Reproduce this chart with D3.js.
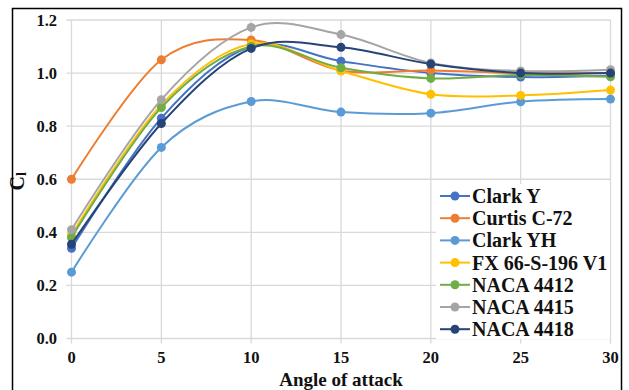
<!DOCTYPE html>
<html>
<head>
<meta charset="utf-8">
<script src="https://cdn.jsdelivr.net/npm/d3@7"></script>
<style>
  body { margin: 0; background: #fff; }
  svg text { font-family: "Liberation Serif", "Times New Roman", serif; font-weight: bold; fill: #111; }
</style>
</head>
<body>
<svg width="629" height="390"></svg>
<script>
// angle of attack (deg)
const angles = [0, 5, 10, 15, 20, 25, 30];

// lift coefficient per airfoil
const clarkY   = [0.34, 0.83, 1.10, 1.045, 1.00, 0.985, 0.99];
const curtis   = [0.60, 1.05, 1.125, 1.01, 1.01, 1.00, 1.00];
const clarkYH  = [0.25, 0.72, 0.893, 0.853, 0.849, 0.892, 0.902];
const fx66     = [0.39, 0.88, 1.11, 1.008, 0.92, 0.916, 0.936];
const naca4412 = [0.38, 0.87, 1.10, 1.02, 0.98, 0.993, 0.986];
const naca4415 = [0.41, 0.90, 1.172, 1.145, 1.038, 1.008, 1.013];
const naca4418 = [0.355, 0.81, 1.093, 1.097, 1.034, 1.00, 1.00];

const names  = ["Clark Y", "Curtis C-72", "Clark YH", "FX 66-S-196 V1", "NACA 4412", "NACA 4415", "NACA 4418"];
const colors = ["#4472C4", "#ED7D31", "#5B9BD5", "#FFC000", "#70AD47", "#A5A5A5", "#264478"];
const values = [clarkY, curtis, clarkYH, fx66, naca4412, naca4415, naca4418];

const xTicks = [0, 5, 10, 15, 20, 25, 30];
const yTicks = [0, 0.2, 0.4, 0.6, 0.8, 1.0, 1.2];

const svg = d3.select("svg");

// outer frame
svg.append("rect")
  .attr("x", 12.5).attr("y", 8.5)
  .attr("width", 609).attr("height", 400)
  .attr("fill", "none").attr("stroke", "#000").attr("stroke-width", 1.5);

const x = d3.scaleLinear().domain([0, 30]).range([71.5, 610.5]);
const y = d3.scaleLinear().domain([0, 1.2]).range([338.5, 20]);

// grid
svg.append("g").selectAll("line").data(yTicks).enter().append("line")
  .attr("x1", x(0) - 5).attr("x2", x(30))
  .attr("y1", d => y(d)).attr("y2", d => y(d))
  .attr("stroke", "#d9d9d9").attr("stroke-width", 1.3);
svg.append("g").selectAll("line").data(xTicks).enter().append("line")
  .attr("x1", d => x(d)).attr("x2", d => x(d))
  .attr("y1", y(1.2)).attr("y2", y(0) + 5)
  .attr("stroke", "#d9d9d9").attr("stroke-width", 1.3);

// tick labels
svg.append("g").selectAll("text").data(yTicks).enter().append("text")
  .attr("x", 57).attr("y", d => y(d) + 5.5)
  .attr("text-anchor", "end").attr("font-size", 16.5)
  .text(d => d3.format(".1f")(d));
svg.append("g").selectAll("text").data(xTicks).enter().append("text")
  .attr("x", d => x(d)).attr("y", 363)
  .attr("text-anchor", "middle").attr("font-size", 16.5)
  .text(d => d);

// axis titles
svg.append("text")
  .attr("x", (x(0) + x(30)) / 2).attr("y", 386)
  .attr("text-anchor", "middle").attr("font-size", 19)
  .text("Angle of attack");
const yl = svg.append("text")
  .attr("transform", "translate(24," + ((y(0) + y(1.2)) / 2 + 2) + ") rotate(-90)")
  .attr("text-anchor", "middle").attr("font-size", 20);
yl.append("tspan").text("C");
yl.append("tspan").attr("font-size", 14).attr("dy", 2).text("l");

// series
const line = d3.line()
  .x((d, i) => x(angles[i]))
  .y(d => y(d))
  .curve(d3.curveCatmullRom.alpha(0));

values.forEach((vals, k) => {
  const g = svg.append("g");
  g.append("path").datum(vals)
    .attr("d", line)
    .attr("fill", "none").attr("stroke", colors[k]).attr("stroke-width", 2);
  g.selectAll("circle").data(vals).enter().append("circle")
    .attr("cx", (d, i) => x(angles[i])).attr("cy", d => y(d))
    .attr("r", 4.5).attr("fill", colors[k]);
});

// legend
const lg = svg.append("g");
lg.append("rect")
  .attr("x", 436).attr("y", 184).attr("width", 174).attr("height", 155)
  .attr("fill", "#fff");
names.forEach((n, k) => {
  const cy = 196 + k * 22.2;
  lg.append("line")
    .attr("x1", 440).attr("x2", 470).attr("y1", cy).attr("y2", cy)
    .attr("stroke", colors[k]).attr("stroke-width", 2);
  lg.append("circle").attr("cx", 455).attr("cy", cy).attr("r", 4.5).attr("fill", colors[k]);
  lg.append("text").attr("x", 472).attr("y", cy + 7)
    .attr("font-size", 20).text(n);
});
</script>
</body>
</html>
